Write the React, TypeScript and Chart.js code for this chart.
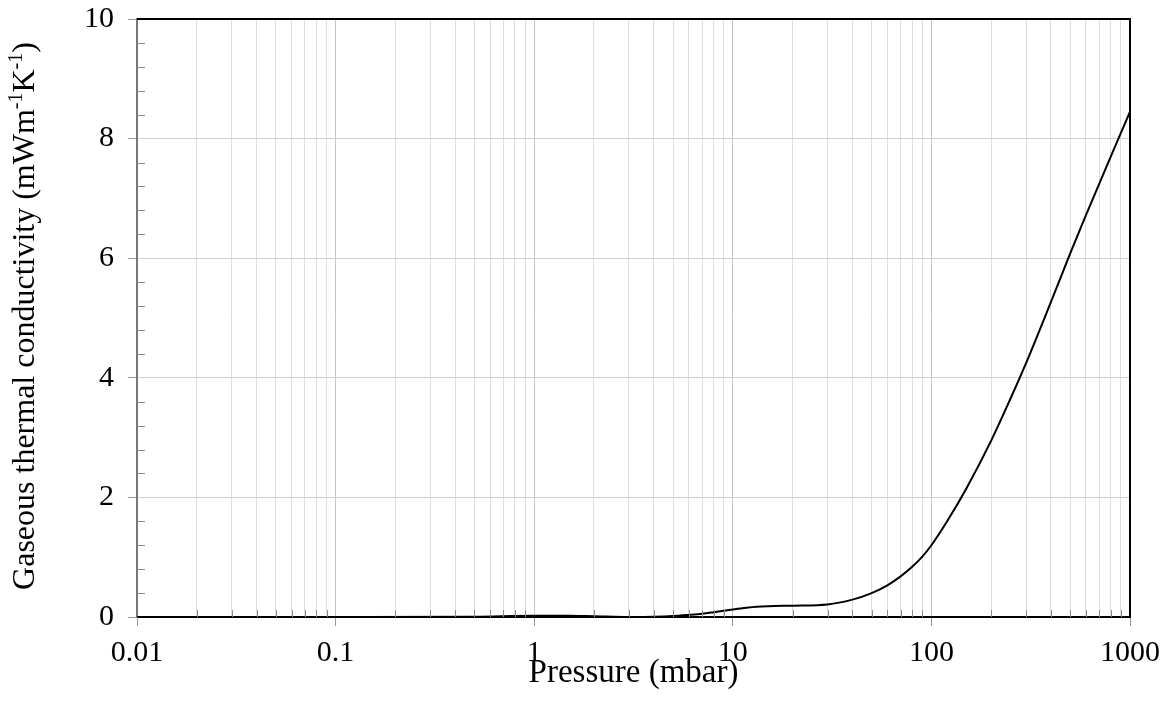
import React, { useEffect, useRef } from "react";
import { Chart, registerables } from "chart.js";

Chart.register(...registerables);

// ---- data ----
const pressure = [0.01, 0.1, 0.5, 1, 1.5, 2, 3, 4, 5, 6, 7, 8, 10, 12, 15, 20, 30, 40, 50, 60, 70, 80, 90, 100, 120, 150, 200, 250, 300, 400, 500, 600, 800, 1000];
const conductivity = [0, 0, 0.005, 0.02, 0.02, 0.012, 0, 0.003, 0.015, 0.035, 0.055, 0.08, 0.125, 0.16, 0.18, 0.19, 0.21, 0.29, 0.4, 0.53, 0.68, 0.84, 1.01, 1.2, 1.6, 2.15, 2.95, 3.65, 4.25, 5.27, 6.08, 6.72, 7.7, 8.45];
const xMajorTicks = [0.01, 0.1, 1, 10, 100, 1000];
const xTickLabels = ["0.01", "0.1", "1", "10", "100", "1000"];
const xMinorMultipliers = [2, 3, 4, 5, 6, 7, 8, 9];
const yMajorStep = 2;
const yMinorStep = 0.4;
const xTitle = "Pressure (mbar)";
const yTitleParts = [
  { text: "Gaseous thermal conductivity (mWm", sup: false },
  { text: "-1", sup: true },
  { text: "K", sup: false },
  { text: "-1", sup: true },
  { text: ")", sup: false },
];

const FONT = '"Liberation Serif", "Times New Roman", Times, serif';

const xMinorTicks: number[] = [];
xMajorTicks.slice(0, -1).forEach((m) => {
  xMinorMultipliers.forEach((k) => xMinorTicks.push(+(k * m).toPrecision(6)));
});
const allXTicks = [...xMajorTicks, ...xMinorTicks].sort((a, b) => a - b);

const isXMajor = (v: number) => xMajorTicks.some((m) => Math.abs(v / m - 1) < 1e-6);
const isYMajor = (v: number) => Math.abs(v / yMajorStep - Math.round(v / yMajorStep)) < 1e-6;

const framePlugin = {
  id: "frame",
  afterDraw(chart: any) {
    const { ctx, chartArea } = chart;
    const { left, right, top, bottom } = chartArea;
    const xs = chart.scales.x;
    const ys = chart.scales.y;
    ctx.save();
    // inner minor ticks x
    ctx.strokeStyle = "#8c8c8c";
    ctx.lineWidth = 1;
    xMinorTicks.forEach((v) => {
      const px = Math.round(xs.getPixelForValue(v)) + 0.5;
      ctx.beginPath();
      ctx.moveTo(px, bottom);
      ctx.lineTo(px, bottom - 7);
      ctx.stroke();
    });
    // inner minor ticks y
    for (let v = yMinorStep; v < 10; v += yMinorStep) {
      if (isYMajor(v)) continue;
      const py = Math.round(ys.getPixelForValue(v)) + 0.5;
      ctx.beginPath();
      ctx.moveTo(left, py);
      ctx.lineTo(left + 8, py);
      ctx.stroke();
    }
    // top & right border
    ctx.strokeStyle = "#000";
    ctx.lineWidth = 2;
    ctx.beginPath();
    ctx.moveTo(left, top);
    ctx.lineTo(right, top);
    ctx.lineTo(right, bottom);
    ctx.stroke();

    // y title with superscripts
    const mainFont = `32px ${FONT}`;
    const supFont = `20px ${FONT}`;
    let total = 0;
    const widths = yTitleParts.map((p) => {
      ctx.font = p.sup ? supFont : mainFont;
      const w = ctx.measureText(p.text).width;
      total += w;
      return w;
    });
    ctx.translate(26, (top + bottom) / 2 - 2);
    ctx.rotate(-Math.PI / 2);
    ctx.fillStyle = "#000";
    ctx.textBaseline = "middle";
    ctx.textAlign = "left";
    let x = -total / 2;
    yTitleParts.forEach((p, i) => {
      ctx.font = p.sup ? supFont : mainFont;
      ctx.fillText(p.text, x, p.sup ? -9 : 0);
      x += widths[i];
    });
    ctx.restore();
  },
};

export default function App() {
  const ref = useRef<HTMLCanvasElement>(null);
  useEffect(() => {
    if (!ref.current) return;
    const chart = new Chart(ref.current, {
      type: "line",
      data: {
        datasets: [
          {
            data: pressure.map((p, i) => ({ x: p, y: conductivity[i] })),
            borderColor: "#000",
            borderWidth: 2,
            pointRadius: 0,
            cubicInterpolationMode: "monotone",
            fill: false,
          },
        ],
      },
      options: {
        animation: false,
        responsive: true,
        maintainAspectRatio: false,
        layout: { padding: { left: 8, top: 19, right: 43, bottom: 9 } },
        plugins: { legend: { display: false }, tooltip: { enabled: false } },
        scales: {
          x: {
            type: "logarithmic",
            min: 0.01,
            max: 1000,
            afterBuildTicks: (scale: any) => {
              scale.ticks = allXTicks.map((v) => ({ value: v }));
            },
            afterFit: (scale: any) => {
              scale.height = 76;
            },
            ticks: {
              autoSkip: false,
              maxRotation: 0,
              padding: 9,
              color: "#000",
              font: { family: FONT, size: 30 },
              callback: (v: any) => {
                const idx = xMajorTicks.findIndex((m) => Math.abs(v / m - 1) < 1e-6);
                return idx >= 0 ? xTickLabels[idx] : "";
              },
            },
            grid: {
              color: (c: any) => (isXMajor(c.tick.value) ? "#c4c4c4" : "#dedede"),
              tickColor: (c: any) => (isXMajor(c.tick.value) ? "#999" : "rgba(0,0,0,0)"),
              tickLength: 9,
              lineWidth: 1,
            },
            border: { color: "#000", width: 2 },
            title: {
              display: true,
              text: xTitle,
              color: "#000",
              font: { family: FONT, size: 33 },
              padding: { top: 0, bottom: 0 },
            },
          },
          y: {
            type: "linear",
            min: 0,
            max: 10,
            afterFit: (scale: any) => {
              scale.width = 129;
              scale.paddingTop = 0;
              scale.paddingBottom = 0;
            },
            ticks: {
              stepSize: yMinorStep,
              autoSkip: false,
              padding: 14,
              color: "#000",
              font: { family: FONT, size: 30 },
              callback: (v: any) => (isYMajor(v) ? String(Math.round(v)) : ""),
            },
            grid: {
              color: (c: any) => {
                const v = c.tick.value;
                return isYMajor(v) && v > 0.01 && v < 9.99 ? "#cfcfcf" : "rgba(0,0,0,0)";
              },
              tickColor: (c: any) => (isYMajor(c.tick.value) ? "#999" : "rgba(0,0,0,0)"),
              tickLength: 9,
              lineWidth: 1,
            },
            border: { color: "#777", width: 2 },
            title: { display: false },
          },
        },
      },
      plugins: [framePlugin],
    } as any);
    return () => chart.destroy();
  }, []);
  return (
    <div style={{ position: "fixed", left: 0, top: 0, width: 1173, height: 702, background: "#fff" }}>
      <canvas ref={ref} />
    </div>
  );
}
